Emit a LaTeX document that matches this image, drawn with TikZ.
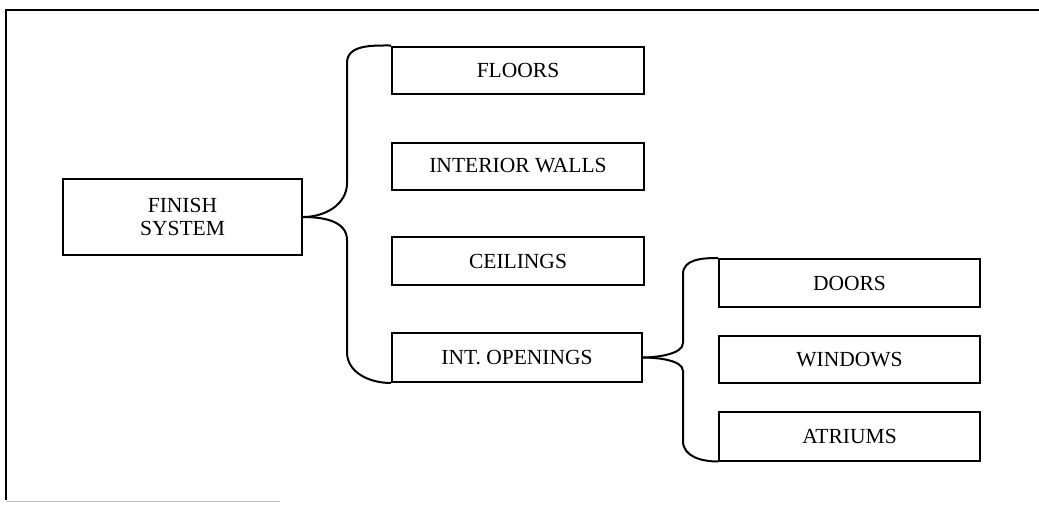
\documentclass[tikz,border=0pt]{standalone}
\usepackage{fontspec}
\setmainfont{Liberation Serif}
\usepackage{tikz}

\tikzset{
  box/.style={draw, line width=2pt, inner sep=0pt, minimum height=48pt, align=center,
    font=\fontsize{21.5}{25}\selectfont},
  brace/.style={line width=2pt}
}

\begin{document}
\begin{tikzpicture}[x=1pt, y=-1pt]
\useasboundingbox (0,0) rectangle (1039,504);

% 外框
\draw[line width=1.5pt] (1039,10) -- (6,10) -- (6,500);
\draw[line width=1pt, gray!50] (6,501) -- (280,501);

% 定义节点
\node[box, minimum width=239pt, minimum height=76pt] (fs) at (182.5,217) {FINISH\\[-2pt]SYSTEM};
\node[box, minimum width=252pt, minimum height=47pt] (floors) at (518,70) {FLOORS};
\node[box, minimum width=252pt, minimum height=47pt] (walls) at (518,166) {INTERIOR WALLS};
\node[box, minimum width=252pt] (ceil) at (518,261) {CEILINGS};
\node[box, minimum width=250pt, minimum height=49pt] (open) at (517,357.5) {INT. OPENINGS};
\node[box, minimum width=261pt] (doors) at (849.5,283) {DOORS};
\node[box, minimum width=261pt, minimum height=47pt] (win) at (849.5,359.5) {WINDOWS};
\node[box, minimum width=261pt, minimum height=49pt] (atr) at (849.5,436) {ATRIUMS};

% 连接节点
\draw[brace] (fs.east) to[out=0, in=-90] (347,183) -- (347,63) to[out=90, in=180] (floors.north west);
\draw[brace] (fs.east) to[out=0, in=90] (347,240) -- (347,352) to[out=-90, in=180] (open.south west);
\draw[brace] (open.east) to[out=0, in=-90, looseness=0.7] (683,343) -- (683,274) to[out=90, in=180] (doors.north west);
\draw[brace] (open.east) to[out=0, in=90, looseness=0.7] (683,371) -- (683,441) to[out=-90, in=180] (atr.south west);

\end{tikzpicture}
\end{document}
